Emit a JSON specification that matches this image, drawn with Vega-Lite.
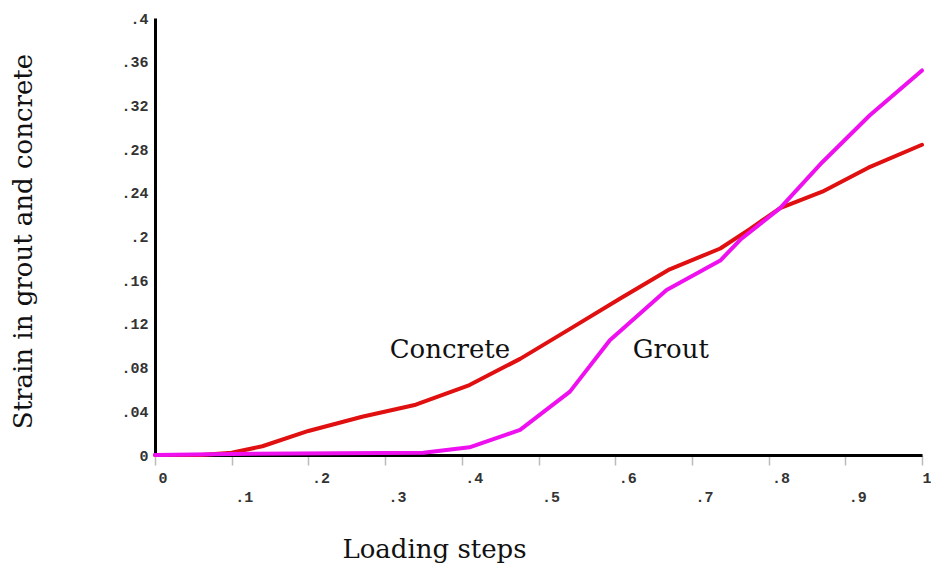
{
  "$schema": "https://vega.github.io/schema/vega-lite/v6.json",
  "width": 767,
  "height": 437,
  "autosize": {"type": "none"},
  "padding": {"left": 155, "top": 18, "right": 9, "bottom": 117},
  "background": "white",
  "config": {"view": {"stroke": null}},
  "datasets": {
    "curves": [
      {"series": "Concrete", "step": 0, "strain": 0},
      {"series": "Concrete", "step": 0.06, "strain": 0},
      {"series": "Concrete", "step": 0.1, "strain": 0.002},
      {"series": "Concrete", "step": 0.14, "strain": 0.008},
      {"series": "Concrete", "step": 0.2, "strain": 0.022},
      {"series": "Concrete", "step": 0.27, "strain": 0.035},
      {"series": "Concrete", "step": 0.34, "strain": 0.046},
      {"series": "Concrete", "step": 0.41, "strain": 0.064},
      {"series": "Concrete", "step": 0.476, "strain": 0.088},
      {"series": "Concrete", "step": 0.54, "strain": 0.115},
      {"series": "Concrete", "step": 0.606, "strain": 0.143},
      {"series": "Concrete", "step": 0.671, "strain": 0.17},
      {"series": "Concrete", "step": 0.737, "strain": 0.189},
      {"series": "Concrete", "step": 0.776, "strain": 0.207},
      {"series": "Concrete", "step": 0.815, "strain": 0.226},
      {"series": "Concrete", "step": 0.87, "strain": 0.241},
      {"series": "Concrete", "step": 0.93, "strain": 0.263},
      {"series": "Concrete", "step": 1.0, "strain": 0.284},
      {"series": "Grout", "step": 0, "strain": 0},
      {"series": "Grout", "step": 0.1, "strain": 0.001},
      {"series": "Grout", "step": 0.35, "strain": 0.002},
      {"series": "Grout", "step": 0.41, "strain": 0.007},
      {"series": "Grout", "step": 0.476, "strain": 0.023},
      {"series": "Grout", "step": 0.541, "strain": 0.058},
      {"series": "Grout", "step": 0.593, "strain": 0.105},
      {"series": "Grout", "step": 0.667, "strain": 0.151},
      {"series": "Grout", "step": 0.737, "strain": 0.178},
      {"series": "Grout", "step": 0.763, "strain": 0.197},
      {"series": "Grout", "step": 0.815, "strain": 0.226},
      {"series": "Grout", "step": 0.87, "strain": 0.268},
      {"series": "Grout", "step": 0.932, "strain": 0.311},
      {"series": "Grout", "step": 1.0, "strain": 0.352}
    ],
    "labels": [
      {"label": "Concrete", "step": 0.306, "strain": 0.089},
      {"label": "Grout", "step": 0.623, "strain": 0.089}
    ]
  },
  "layer": [
    {
      "data": {"name": "curves"},
      "mark": {"type": "line", "strokeWidth": 4, "strokeCap": "round", "strokeJoin": "round"},
      "encoding": {
        "x": {
          "field": "step",
          "type": "quantitative",
          "scale": {"domain": [0, 1], "nice": false, "zero": false},
          "axis": {
            "title": "Loading steps",
            "titleFont": "DejaVu Serif",
            "titleFontSize": 26,
            "titleFontWeight": "normal",
            "titleColor": "#111111",
            "titleX": 279,
            "titleY": 102,
            "titleAlign": "center",
            "titleAnchor": null,
            "titleBaseline": "alphabetic",
            "values": [0, 0.1, 0.2, 0.3, 0.4, 0.5, 0.6, 0.7, 0.8, 0.9, 1],
            "labelExpr": "replace(format(datum.value, '.2~f'), '0.', '.')",
            "labelFont": "Liberation Mono",
            "labelFontSize": 15,
            "labelFontWeight": "bold",
            "labelColor": "#333333",
            "labelAlign": "left",
            "labelBaseline": "top",
            "labelOffset": {"condition": {"test": "datum.value === 1", "value": 0}, "value": 3},
            "labelPadding": {"condition": {"test": "round(datum.value * 10) % 2 === 1", "value": 24}, "value": 5},
            "labelOverlap": false,
            "labelFlush": false,
            "domainColor": "#000000",
            "domainWidth": 3,
            "tickColor": "#bbbbbb",
            "tickSize": 10,
            "tickWidth": 1.5,
            "grid": false
          }
        },
        "y": {
          "field": "strain",
          "type": "quantitative",
          "scale": {"domain": [0, 0.4], "nice": false},
          "axis": {
            "title": "Strain in grout and concrete",
            "titleFont": "DejaVu Serif",
            "titleFontSize": 26,
            "titleFontWeight": "normal",
            "titleColor": "#111111",
            "titleAngle": -90,
            "titleX": -124,
            "titleY": 223,
            "titleAlign": "center",
            "titleAnchor": null,
            "titleBaseline": "alphabetic",
            "values": [0, 0.04, 0.08, 0.12, 0.16, 0.2, 0.24, 0.28, 0.32, 0.36, 0.4],
            "labelExpr": "replace(format(datum.value, '.2~f'), '0.', '.')",
            "labelFont": "Liberation Mono",
            "labelFontSize": 15,
            "labelFontWeight": "bold",
            "labelColor": "#333333",
            "labelPadding": 7,
            "labelOverlap": false,
            "labelFlush": false,
            "ticks": false,
            "domainColor": "#000000",
            "domainWidth": 3,
            "grid": false
          }
        },
        "color": {
          "field": "series",
          "type": "nominal",
          "scale": {"domain": ["Concrete", "Grout"], "range": ["#e01010", "#ee10ee"]},
          "legend": null
        }
      }
    },
    {
      "data": {"name": "labels"},
      "mark": {"type": "text", "font": "DejaVu Serif", "fontSize": 26, "align": "left", "baseline": "alphabetic", "color": "#111111"},
      "encoding": {
        "x": {"field": "step", "type": "quantitative"},
        "y": {"field": "strain", "type": "quantitative"},
        "text": {"field": "label"}
      }
    }
  ]
}
